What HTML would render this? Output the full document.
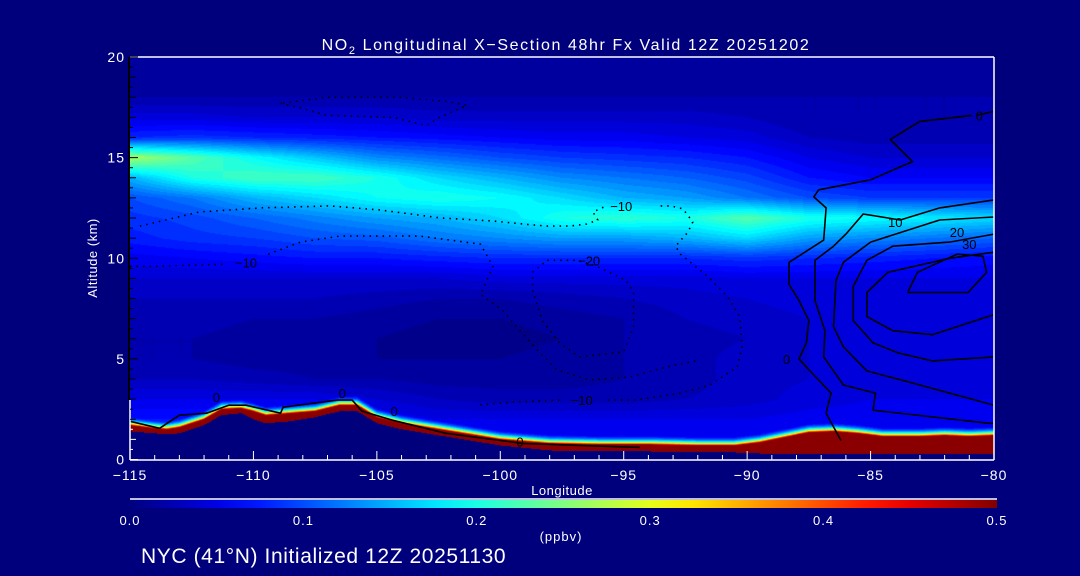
<!DOCTYPE html>
<html><head><meta charset="utf-8">
<style>
html,body{margin:0;padding:0;background:#00007c;}
#wrap{position:relative;width:1080px;height:576px;background:#00007c;overflow:hidden;font-family:"Liberation Sans",sans-serif;}
canvas{position:absolute;left:130px;top:57px;}
svg{position:absolute;left:0;top:0;}
text{fill:#fff;font-family:"Liberation Sans",sans-serif;}
</style></head>
<body>
<div id="wrap">
<canvas id="field" width="864" height="403"></canvas>
<svg id="svg" width="1080" height="576"></svg>
</div>
<script>
// ---- data ----
const lons = [-115,-112.5,-110,-107.5,-105,-102.5,-100,-97.5,-95,-92.5,-90,-87.5,-85,-82.5,-80];
const alts = [20,19,18,17,16,15,14,13,12,11,10,9,8,7,6,5,4,3,2,1,0];
const no2Rows = [
[0.015,0.015,0.015,0.015,0.015,0.015,0.015,0.015,0.015,0.015,0.015,0.015,0.015,0.015,0.015],
[0.015,0.015,0.015,0.015,0.015,0.015,0.015,0.015,0.015,0.015,0.015,0.015,0.015,0.015,0.015],
[0.02,0.02,0.02,0.02,0.02,0.02,0.02,0.02,0.02,0.02,0.02,0.02,0.02,0.02,0.02],
[0.045,0.045,0.04,0.04,0.04,0.035,0.035,0.035,0.035,0.035,0.03,0.02,0.02,0.02,0.02],
[0.08,0.085,0.08,0.075,0.07,0.065,0.06,0.055,0.055,0.05,0.045,0.03,0.025,0.025,0.025],
[0.27,0.23,0.19,0.16,0.13,0.115,0.1,0.09,0.085,0.08,0.07,0.05,0.04,0.04,0.04],
[0.15,0.2,0.22,0.22,0.2,0.17,0.15,0.13,0.12,0.11,0.095,0.07,0.06,0.06,0.06],
[0.1,0.12,0.15,0.17,0.19,0.2,0.19,0.17,0.15,0.14,0.12,0.1,0.09,0.09,0.09],
[0.085,0.095,0.11,0.125,0.14,0.15,0.17,0.2,0.21,0.2,0.23,0.2,0.19,0.18,0.17],
[0.075,0.085,0.09,0.1,0.105,0.12,0.13,0.14,0.14,0.15,0.17,0.14,0.13,0.12,0.11],
[0.055,0.06,0.065,0.07,0.07,0.075,0.08,0.08,0.08,0.08,0.085,0.08,0.075,0.07,0.065],
[0.04,0.04,0.04,0.04,0.04,0.04,0.045,0.045,0.045,0.045,0.05,0.05,0.05,0.05,0.05],
[0.03,0.03,0.03,0.03,0.025,0.02,0.02,0.025,0.03,0.035,0.04,0.045,0.045,0.045,0.045],
[0.025,0.025,0.02,0.02,0.015,0.01,0.01,0.015,0.02,0.03,0.035,0.04,0.045,0.045,0.045],
[0.02,0.02,0.015,0.015,0.01,0.005,0.005,0.01,0.02,0.025,0.03,0.04,0.045,0.045,0.04],
[0.02,0.02,0.015,0.015,0.01,0.01,0.01,0.015,0.02,0.025,0.035,0.04,0.045,0.04,0.04],
[0.03,0.03,0.025,0.02,0.02,0.015,0.015,0.015,0.02,0.025,0.035,0.04,0.045,0.045,0.045],
[0.05,0.05,0.05,0.05,0.04,0.03,0.025,0.025,0.025,0.03,0.035,0.045,0.05,0.05,0.05],
[0.07,0.07,0.07,0.07,0.06,0.05,0.05,0.05,0.05,0.05,0.05,0.055,0.055,0.055,0.055],
[0.07,0.07,0.07,0.07,0.06,0.05,0.05,0.05,0.05,0.05,0.05,0.055,0.055,0.055,0.055],
[0.07,0.07,0.07,0.07,0.06,0.05,0.05,0.05,0.05,0.05,0.05,0.055,0.055,0.055,0.055]
];
const surfLons = [-115,-114,-113.5,-113,-112,-111.3,-110.5,-110,-109.5,-108.5,-107.5,-106.5,-105.8,-105,-104,-103,-102,-100,-98,-96,-94,-92,-90.5,-89.5,-88.5,-87.5,-86.5,-85.5,-84.5,-83,-82,-81,-80];
const surfTop = [1.7,1.55,1.5,1.6,2.0,2.5,2.55,2.4,2.2,2.3,2.4,2.7,2.7,2.1,1.8,1.6,1.4,1.0,0.8,0.75,0.75,0.7,0.7,0.85,1.1,1.35,1.4,1.3,1.15,1.15,1.2,1.15,1.2];
const groundAlt = [1.4,1.3,1.25,1.3,1.7,2.2,2.3,2.0,1.8,1.9,2.1,2.4,2.4,1.8,1.5,1.3,1.1,0.7,0.45,0.4,0.4,0.35,0.35,0.3,0.25,0.25,0.25,0.25,0.25,0.25,0.25,0.25,0.25];
const xTicks = [-115,-110,-105,-100,-95,-90,-85,-80];
const xTickLabels = ["\u2212115","\u2212110","\u2212105","\u2212100","\u221295","\u221290","\u221285","\u221280"];
const yTicks = [0,5,10,15,20];
const cbTicks = [0.0,0.1,0.2,0.3,0.4,0.5];
const cbTickLabels = ["0.0","0.1","0.2","0.3","0.4","0.5"];
// contour lines [lon,alt]
const c0East = [[-80.9,17.1],[-83.0,16.8],[-84.2,15.9],[-83.3,14.8],[-85.0,13.9],[-87.1,13.4],[-87.3,13.05],[-86.8,12.5],[-86.9,10.9],[-88.3,9.8],[-88.3,8.7],[-87.9,7.9],[-87.5,6.9],[-87.6,5.8],[-87.9,5.0],[-87.3,4.2],[-86.6,3.3],[-86.8,2.3],[-86.2,0.95]];
const c0Top = [[-80,17.3],[-80.7,17.1]];
const c10 = [[-80,12.9],[-82.2,12.5],[-83.8,11.9],[-85.3,12.2],[-86.0,11.2],[-86.5,10.6],[-87.25,9.9],[-87.25,7.9],[-86.85,6.4],[-86.9,5.1],[-86.1,3.7],[-84.8,3.3],[-84.9,2.45],[-80.2,1.8],[-80,1.8]];
const c20 = [[-80,12.05],[-82.2,11.9],[-85.0,10.8],[-85.55,10.3],[-86.1,9.8],[-86.4,8.9],[-86.5,6.6],[-86.1,5.6],[-85.15,4.4],[-83.3,3.8],[-80,2.7]];
const c30 = [[-80,11.2],[-81.8,10.8],[-84.1,10.6],[-85.15,9.9],[-85.7,8.6],[-85.7,6.9],[-84.9,5.8],[-83.9,5.3],[-82.5,4.9],[-80,5.1]];
const c40 = [[-80,10.3],[-81.8,10.0],[-84.3,9.3],[-85.15,8.3],[-85.15,7.1],[-84.1,6.4],[-82.5,6.2],[-80,7.2]];
const c50 = [[-83.5,8.3],[-83.1,9.3],[-81.5,10.2],[-80.45,10.1],[-80.3,9.3],[-81.05,8.3],[-83.5,8.3]];
const c0Surf = [[-115,1.9],[-113.8,1.55],[-113.0,2.2],[-111.9,2.3],[-111.0,2.7],[-110.3,2.7],[-108.9,2.3],[-108.8,2.6],[-106.6,2.95],[-106.0,2.95],[-105.6,2.4],[-104.35,1.95],[-102.2,1.3],[-99.1,0.8],[-94.35,0.6]];
const dUpper = [[-114.6,11.6],[-112.2,12.3],[-109.7,12.5],[-106.9,12.6],[-104.9,12.4],[-102.4,12.0],[-100.3,11.85],[-99.1,11.7],[-98.1,11.6],[-97.2,11.6],[-96.5,11.7],[-96.05,11.9],[-96.25,12.3],[-95.7,12.6]];
const dUpper2 = [[-93.5,12.6],[-93.1,12.6],[-92.6,12.45],[-92.2,11.8],[-92.4,11.3],[-92.9,10.6],[-92.7,10.2],[-91.6,9.1],[-90.8,8.1],[-90.3,7.1],[-90.2,5.6],[-90.4,4.6],[-91.5,3.7],[-92.7,3.3],[-94.5,2.95],[-95.8,2.95]];
const dUpper3 = [[-97.6,2.95],[-99.5,2.85],[-101,2.7]];
const dMinus20 = [[-98.1,9.9],[-96.9,9.9],[-96.1,9.6],[-94.9,8.9],[-94.6,8.3],[-94.6,6.6],[-95.0,5.35],[-96.8,5.1],[-97.6,5.8],[-98.3,6.9],[-98.7,8.4],[-98.7,9.3],[-98.1,9.9]];
const dLower = [[-115,9.6],[-114,9.6],[-111.2,9.7]];
const dLower2 = [[-109.4,10.2],[-108.1,10.8],[-106.5,11.1],[-103.25,11.1],[-100.8,10.7],[-100.3,9.6],[-100.8,8.2],[-99.9,7.4],[-99.2,6.4],[-98.4,5.3],[-97.7,4.45],[-96.4,3.95],[-94.75,4.1],[-93.25,4.6],[-91.9,4.95]];
const dTop = [[-108.9,17.7],[-108.2,17.5],[-107.0,17.1],[-104.35,17.0],[-103.0,16.6],[-102.45,17.0],[-101.35,17.6],[-102.2,17.8],[-104.1,18.0],[-107.0,18.0],[-108.9,17.7]];
const contourLabels = [["0",-80.6,17.1],["10",-84,11.8],["20",-81.5,11.3],["30",-81.0,10.7],["0",-88.4,5.0],["\u221210",-95.1,12.6],["\u221210",-96.7,2.95],["\u221220",-96.4,9.9],["\u221210",-110.3,9.8],["0",-111.5,3.1],["0",-106.4,3.3],["0",-99.2,0.9],["0",-104.3,2.4]];

// ---- axes ----
const X0=130, X1=994, Y0=57, Y1=459.5;
const xS = lon => X0 + (lon+115)/35*(X1-X0);
const yS = a => Y1 - a/20*(Y1-Y0);
const lonInv = px => -115 + px/(X1-X0)*35;
const altInv = py => 20 - py/(Y1-Y0)*20;

function jet(f){
  f=Math.max(0,Math.min(1,f));
  const cl=v=>Math.max(0,Math.min(1,v));
  const r=cl(1.5-Math.abs(4*f-3)), g=cl(1.5-Math.abs(4*f-2)), b=cl(1.5-Math.abs(4*f-1));
  return [r*255,g*255,b*255];
}
function interp1(xs,ys,x){
  if(x<=xs[0]) return ys[0];
  for(let i=1;i<xs.length;i++){ if(x<=xs[i]){const t=(x-xs[i-1])/(xs[i]-xs[i-1]);return ys[i-1]+t*(ys[i]-ys[i-1]);} }
  return ys[ys.length-1];
}
function field(lon,alt){
  let ci=(lon+115)/2.5; ci=Math.max(0,Math.min(lons.length-1.0001,ci));
  let ri=(20-alt); ri=Math.max(0,Math.min(alts.length-1.0001,ri));
  const c=Math.floor(ci), r=Math.floor(ri), tx=ci-c, ty=ri-r;
  const a=no2Rows[r][c], b=no2Rows[r][c+1], d=no2Rows[r+1][c], e=no2Rows[r+1][c+1];
  return (a*(1-tx)+b*tx)*(1-ty)+(d*(1-tx)+e*tx)*ty;
}
// ---- draw field ----
(function(){
  const cv=document.getElementById('field'), ctx=cv.getContext('2d');
  const W=cv.width,H=cv.height, img=ctx.createImageData(W,H);
  for(let px=0;px<W;px++){
    const lon=lonInv(px+0.5);
    const st=interp1(surfLons,surfTop,lon), gr=interp1(surfLons,groundAlt,lon);
    for(let py=0;py<H;py++){
      const alt=altInv(py+0.5);
      let col;
      if(alt<gr){ col=[0,0,124]; }
      else{
        let v;
        if(alt<st) v=0.49;
        else v=Math.max(field(lon,alt),0.47*Math.exp(-(alt-st)/0.2));
        v=Math.floor(v/0.01)*0.01+0.005;
        col=jet(v/0.5);
      }
      const k=(py*W+px)*4;
      img.data[k]=col[0];img.data[k+1]=col[1];img.data[k+2]=col[2];img.data[k+3]=255;
    }
  }
  ctx.putImageData(img,0,0);
})();
// ---- svg overlay ----
const svg=document.getElementById('svg'), NS='http://www.w3.org/2000/svg';
function mk(tag,attrs,parent){const e=document.createElementNS(NS,tag);for(const k in attrs)e.setAttribute(k,attrs[k]);(parent||svg).appendChild(e);return e;}
const defs=mk('defs',{});
const cp=mk('clipPath',{id:'plotclip'},defs);
mk('rect',{x:X0,y:Y0,width:X1-X0,height:Y1-Y0},cp);
const cg=mk('g',{'clip-path':'url(#plotclip)'});


function line(pts,dotted,name){
  const d=pts.map((p,i)=>(i?'L':'M')+xS(p[0]).toFixed(1)+','+yS(p[1]).toFixed(1)).join('');
  const p=mk('path',{d:d,fill:'none',stroke:'#000','stroke-width':1.6,'stroke-dasharray':dotted?'1.5,5':'none','stroke-linejoin':'round'},cg);
  
  
}
line(c0East,false,'contour-0-east');
line(c0Top,false,'contour-0-top');
line(c10,false,'contour-10');
line(c20,false,'contour-20');
line(c30,false,'contour-30');
line(c40,false,'contour-40');
line(c50,false,'contour-50');
line(c0Surf,false,'contour-0-surface');
line(dUpper,true,'contour-neg10-upper');
line(dUpper2,true,'contour-neg10-east');
line(dUpper3,true,'contour-neg10-low');
line(dMinus20,true,'contour-neg20');
line(dLower,true,'contour-neg10-west');
line(dLower2,true,'contour-neg10-loop');
line(dTop,true,'contour-neg-top');
contourLabels.forEach(l=>{
  const t=mk('text',{x:xS(l[1]),y:yS(l[2])+5,'font-size':13,'text-anchor':'middle',style:'fill:#000'},cg);
  t.textContent=l[0];
  
  
});
// axes frame
const ax=mk('g',{});


mk('line',{x1:X0,y1:Y0,x2:X1,y2:Y0,stroke:'#fff','stroke-width':1.5},ax);
mk('line',{x1:X1,y1:Y0,x2:X1,y2:460,stroke:'#fff','stroke-width':1.5},ax);
mk('line',{x1:X0,y1:460,x2:X1,y2:460,stroke:'#fff','stroke-width':1.5},ax);
mk('line',{x1:129,y1:Y0,x2:129,y2:400,stroke:'#000','stroke-width':2},ax);
mk('line',{x1:130,y1:400,x2:130,y2:460,stroke:'#fff','stroke-width':1.5},ax);
for(let a=0;a<=20;a+=0.5){
  const y=yS(a), ground=a<2;
  mk('line',{x1:130,y1:y,x2:a%5===0?138:(a%1===0?136:133),y2:y,stroke:ground?'#fff':'#000','stroke-width':1},ax);
}
for(let lon=-115;lon<=-80;lon++){
  mk('line',{x1:xS(lon),y1:460,x2:xS(lon),y2:lon%5===0?451:455,stroke:'#fff','stroke-width':1},ax);
}
xTicks.forEach((v,i)=>{
  const t=mk('text',{x:xS(v),y:480,'font-size':14,'letter-spacing':1,'text-anchor':'middle'},ax);
  t.textContent=xTickLabels[i];
  
  
});
yTicks.forEach(v=>{
  const t=mk('text',{x:125,y:yS(v)+5,'font-size':14,'letter-spacing':1,'text-anchor':'end'},ax);
  t.textContent=String(v);
  
  
});
// colorbar
const CB0=130, CB1=997;
const grad=mk('linearGradient',{id:'cbg',x1:0,x2:1,y1:0,y2:0},defs);
for(let i=0;i<=20;i++){const c=jet(i/20);mk('stop',{offset:i/20,'stop-color':'rgb('+c.map(Math.round).join(',')+')'},grad);}
const cb=mk('rect',{x:CB0,y:500,width:CB1-CB0,height:8,fill:'url(#cbg)'});


mk('line',{x1:CB0,y1:499,x2:CB1,y2:499,stroke:'#fff','stroke-width':1.5});
cbTicks.forEach((v,i)=>{
  const t=mk('text',{x:CB0+v/0.5*(CB1-CB0),y:525,'font-size':13,'letter-spacing':1,'text-anchor':'middle'});
  t.textContent=cbTickLabels[i];
  
  
});
</script>
<svg width="1080" height="576" style="position:absolute;left:0;top:0;pointer-events:none">
<text x="566" y="50" font-size="16" letter-spacing="1.6" text-anchor="middle">NO<tspan font-size="11" dy="4">2</tspan><tspan dy="-4"> Longitudinal X−Section 48hr  Fx Valid 12Z 20251202</tspan></text>
<text x="562" y="495" font-size="13" letter-spacing="0.5" text-anchor="middle">Longitude</text>
<text x="97" y="258" font-size="13" letter-spacing="0.5" text-anchor="middle" transform="rotate(-90 97 258)">Altitude (km)</text>
<text x="561" y="541" font-size="13" letter-spacing="1" text-anchor="middle">(ppbv)</text>
<text x="141" y="563" font-size="21" letter-spacing="0.6">NYC (41°N) Initialized 12Z 20251130</text>
</svg>
</body></html>
